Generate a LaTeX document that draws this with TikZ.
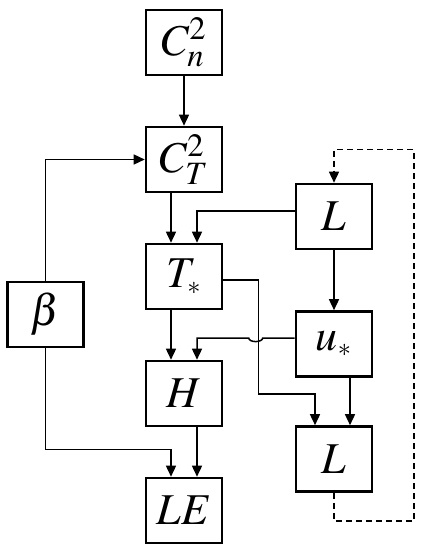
\documentclass[tikz,border=0pt]{standalone}
\usepackage{amsmath}
\usepackage{mathptmx}
\usepackage{tikz}
\usetikzlibrary{arrows.meta, positioning}
\tikzstyle{block}=[rectangle, draw, line width=1.3pt, minimum width=38pt, minimum height=32.5pt, inner sep=0pt, font=\fontsize{22}{26}\selectfont]
\tikzstyle{link}=[line width=0.75pt]

\begin{document}
\begin{tikzpicture}[x=0.5pt, y=-0.5pt, ->, >={Triangle[length=5.5pt, width=5pt]}, node distance=58.5pt]
    \useasboundingbox (0,0) rectangle (423,550);
    \node[block] (cn) at (184,42.5)  {$C_n^2$};
    \node[block] (ct) [below of=cn]  {$C_T^2$};
    \node[block] (ts) [below of=ct]  {$T_{\scriptscriptstyle *}$};
    \node[block] (h)  [below of=ts]  {$H$};
    \node[block] (le) [below of=h]   {$LE$};
    \node[block] (b)  at (45.5,314.5) {$\beta$};
    \node[block] (lt) at (334,216.5)  {$L$};
    \node[block] (us) at (334,344)    {$u_{\scriptscriptstyle *}$};
    \node[block] (lb) at (334,459)    {$L$};

    \path[link]
      (cn) edge (ct)
      ([xshift=-6.5pt]ct.south) edge ([xshift=-6.5pt]ts.north)
      ([xshift=-6.5pt]ts.south) edge ([xshift=-6.5pt]h.north)
      ([xshift=6.5pt]h.south) edge ([xshift=6.5pt]le.north)
      (lt) edge (us)
      ([xshift=8pt]us.south) edge ([xshift=8pt]lb.north);
    \draw[link] (b) |- (ct);
    \draw[link] ([yshift=2.75pt]lt.west) -| ([xshift=6.5pt]ts.north);
    \draw[link] ([yshift=-1.75pt]ts.east) -- ++(17.5pt,0) -- ++(0,-57pt) -| ([xshift=-9.5pt]lb.north);
    \draw[link] ([yshift=3pt]us.west) -- ++(-16pt,0)
      arc[start angle=0, end angle=-180, x radius=3.5pt, y radius=1.8pt]
      -| ([xshift=6.5pt]h.north);
    \draw[link] (b.south) -- ++(0,-50.5pt) -| ([xshift=-6.5pt]le.north);
    % feedback loop
    \draw[link, dash pattern=on 3pt off 2pt] (lb.south) -- ++(0,-14pt) -- ++(40pt,0)
      |- ([yshift=16.5pt]lt.north) -- (lt.north);
\end{tikzpicture}
\end{document}
